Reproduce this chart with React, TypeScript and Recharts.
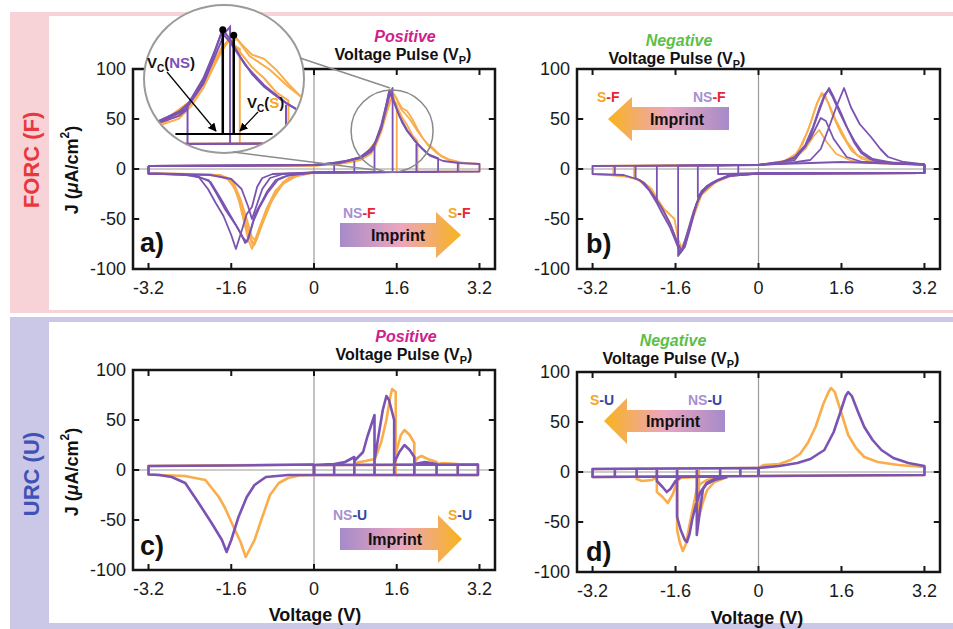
import React from "react"
import { LineChart, Line, XAxis, YAxis, ReferenceLine, ReferenceDot, ReferenceArea } from "recharts"

type P = [number, number | null]

const FONT = '"Liberation Sans", Arial, Helvetica, sans-serif'
const PURPLE = "#7b53b2"
const ORANGE = "#f9ad4b"
const RED = "#e8262d"
const BLUE = "#3346a8"
const LAV = "#a88fd2"
const GOLD = "#f5a623"

const xTicks = [-3.2, -1.6, 0, 1.6, 3.2]
const yTicks = [-100, -50, 0, 50, 100]

// a) FORC, positive pulse
const aOrange1: P[] = [[-3.2,3],[-2,3],[-1,3.2],[0,3.5],[0.3,4.5],[0.6,6],[0.9,9],[1.1,15],[1.2,24],[1.3,37],[1.4,55],[1.48,68],[1.55,75],[1.62,68],[1.7,61],[1.8,58],[1.9,50],[2.0,40],[2.1,31],[2.2,25],[2.3,21],[2.45,13],[2.6,9],[2.9,6],[3.2,5],[3.2,-2.5],[1.5,-3],[0,-3.5],[-0.16,-5],[-0.4,-7.5],[-0.54,-11],[-0.75,-22],[-0.93,-41],[-1.08,-62],[-1.2,-80],[-1.27,-71],[-1.34,-56],[-1.45,-32],[-1.59,-12],[-1.9,-6],[-2.5,-5],[-3.2,-4.5],[-3.2,3]]
const aOrange2: P[] = [[-3.2,3],[0,3.5],[0.5,5],[0.9,10],[1.15,20],[1.3,40],[1.42,60],[1.5,71],[1.6,65],[1.6,-3],[0,-3.5],[-0.3,-6],[-0.6,-13],[-0.85,-35],[-1.0,-55],[-1.15,-76],[-1.22,-70],[-1.32,-52],[-1.45,-28],[-1.6,-10],[-2.0,-5.5],[-3.2,-4.5],[-3.2,3]]
const aOrange3: P[] = [[-3.2,3],[0,3.5],[0.6,6.5],[0.95,12],[1.2,28],[1.35,50],[1.45,66],[1.52,72],[1.6,63],[1.7,52],[1.8,44],[1.9,34],[2.0,28],[2.0,-3],[0,-3.5],[-0.5,-9],[-0.75,-24],[-0.95,-45],[-1.1,-66],[-1.18,-77],[-1.26,-66],[-1.38,-45],[-1.5,-22],[-1.7,-8],[-2.2,-5],[-3.2,-4.5],[-3.2,3]]
const aOrange4: P[] = [[-3.2,3],[0,3.5],[0.7,7],[1.0,13],[1.25,32],[1.4,57],[1.5,70],[1.58,72],[1.68,60],[1.85,50],[2.0,38],[2.2,24],[2.4,15],[2.6,10],[2.8,7],[2.8,-2.7],[0,-3.5],[-0.3,-6],[-0.6,-15],[-0.8,-30],[-1.0,-55],[-1.12,-72],[-1.2,-68],[-1.3,-50],[-1.42,-30],[-1.55,-14],[-1.8,-6],[-3.2,-4.5],[-3.2,3]]
const aPurple1: P[] = [[-3.2,3],[-2,3],[-1,3.5],[0,4],[0.3,5.5],[0.6,8],[0.9,12],[1.1,20],[1.2,28],[1.3,42],[1.38,60],[1.46,79],[1.52,72],[1.6,60],[1.7,47],[1.8,38],[1.95,28],[2.1,20],[2.25,13],[2.5,8],[2.8,6],[3.2,5],[3.2,-2.5],[1.5,-3],[0,-3.5],[-0.43,-5.5],[-0.6,-8],[-0.74,-11],[-0.9,-22],[-1.0,-32],[-1.13,-44],[-1.22,-60],[-1.3,-73],[-1.38,-68],[-1.5,-57],[-1.71,-41],[-1.88,-25],[-2.04,-11],[-2.4,-6],[-3.2,-4.5],[-3.2,3]]
const aPurple2: P[] = [[-3.2,3],[0,4],[0.5,6.5],[0.9,12],[1.15,22],[1.3,44],[1.4,65],[1.45,77],[1.52,70],[1.65,53],[1.8,39],[2.0,25],[2.2,15],[2.4,11],[2.4,-2.8],[0,-3.5],[-0.5,-6.5],[-0.7,-11],[-0.9,-24],[-1.05,-38],[-1.17,-52],[-1.27,-70],[-1.33,-74],[-1.42,-64],[-1.6,-48],[-1.8,-30],[-2.0,-13],[-2.3,-6],[-3.2,-4.5],[-3.2,3]]
const aPurple3: P[] = [[-3.2,3],[0,4],[0.5,6],[0.9,11],[1.15,21],[1.3,40],[1.42,65],[1.48,77],[1.52,81],[1.52,-3],[0,-3.5],[-0.8,-5],[-1.0,-9],[-1.1,-18],[-1.2,-38],[-1.3,-45],[-1.4,-62],[-1.51,-80],[-1.6,-66],[-1.75,-47],[-1.9,-34],[-2.05,-20],[-2.23,-8],[-2.6,-5],[-3.2,-4.5],[-3.2,3]]
const aPurple4: P[] = [[-3.2,3],[0,4],[0.5,6],[0.9,11],[1.1,17],[1.17,22],[1.17,-3],[0,-3.5],[-0.6,-5],[-0.85,-9],[-1.0,-20],[-1.1,-35],[-1.2,-50],[-1.27,-38],[-1.4,-20],[-1.6,-10],[-2.0,-6],[-3.2,-4.5],[-3.2,3]]
const aDividers: P[] = [[0.39,4.5],[0.39,-3.3],[0.39,null],[0.78,8],[0.78,-3.2],[0.78,null],[1.98,25],[1.98,-3],[1.98,null],[2.78,6],[2.78,-2.7]]

// b) FORC, negative pulse
const bOrange1: P[] = [[3.2,4.5],[3.2,-4],[0,-4.5],[-0.4,-5],[-0.8,-12],[-1.1,-25],[-1.25,-45],[-1.35,-62],[-1.45,-80],[-1.5,-83],[-1.56,-75],[-1.65,-62],[-1.8,-46],[-1.95,-31],[-2.06,-22],[-2.3,-11],[-2.6,-7],[-3.2,-5],[-3.2,3],[0,4.2],[0.4,6.5],[0.68,12],[0.85,25],[1.0,45],[1.12,65],[1.22,76],[1.3,72],[1.42,55],[1.6,35],[1.8,18],[2.0,10],[2.3,6],[3.2,4.5]]
const bOrange2: P[] = [[3.2,4.5],[3.2,-4],[0,-4.5],[-0.5,-6],[-0.85,-14],[-1.1,-26],[-1.3,-55],[-1.42,-75],[-1.47,-80],[-1.55,-70],[-1.62,-50],[-1.72,-45],[-1.82,-40],[-1.95,-30],[-2.06,-20],[-2.25,-12],[-2.5,-8],[-2.8,-6],[-2.8,3.1],[0,4.2],[0.5,8],[0.75,16],[0.95,38],[1.08,58],[1.18,72],[1.25,74],[1.35,66],[1.5,48],[1.7,28],[1.9,14],[2.2,8],[3.2,4.5]]
const bOrange3: P[] = [[3.2,4.5],[3.2,-4],[0,-4.5],[-0.6,-7],[-0.9,-15],[-1.15,-28],[-1.3,-52],[-1.42,-72],[-1.5,-80],[-1.58,-72],[-1.7,-55],[-1.9,-35],[-2.1,-18],[-2.4,-9],[-2.4,3.2],[0,4],[0.6,7],[0.9,20],[1.05,32],[1.17,39],[1.3,28],[1.5,15],[1.8,8],[2.2,6],[3.2,4.5]]
const bPurple1: P[] = [[3.2,4.5],[3.2,-4],[1.5,-4.2],[0,-4.5],[-0.35,-4.7],[-0.6,-7],[-0.8,-11],[-1.0,-17],[-1.13,-25],[-1.25,-45],[-1.32,-58],[-1.42,-76],[-1.51,-84],[-1.6,-72],[-1.71,-58],[-1.85,-45],[-1.96,-34],[-2.1,-22],[-2.29,-11],[-2.6,-6],[-3.2,-5],[-3.2,3],[-2,3.3],[-1,3.7],[0,4.2],[0.4,6],[0.68,11],[0.9,22],[1.0,33],[1.15,55],[1.27,72],[1.36,81],[1.45,72],[1.6,55],[1.73,39],[1.85,26],[1.98,16],[2.15,10],[2.3,7],[2.7,5],[3.2,4.5]]
const bPurple2: P[] = [[3.2,4.5],[3.2,-4],[0,-4.5],[-0.5,-6],[-0.8,-12],[-1.05,-20],[-1.2,-35],[-1.32,-60],[-1.42,-78],[-1.48,-82],[-1.56,-74],[-1.7,-55],[-1.85,-40],[-2.0,-28],[-2.2,-14],[-2.37,-9],[-2.37,3.2],[0,4.2],[0.4,6],[0.7,12],[0.9,24],[1.05,42],[1.18,62],[1.28,75],[1.35,79],[1.42,73],[1.55,58],[1.7,42],[1.85,28],[2.0,17],[2.2,10],[2.6,6],[3.2,4.5]]
const bPurple3: P[] = [[3.2,4.5],[3.2,-4],[0,-4.5],[-0.6,-7],[-0.9,-14],[-1.1,-22],[-1.25,-42],[-1.38,-65],[-1.48,-82],[-1.55,-87],[-1.55,3.3],[0,4],[0.6,6],[1.0,9],[1.2,20],[1.34,39],[1.5,62],[1.65,81],[1.78,62],[1.95,45],[2.17,32],[2.35,20],[2.5,12],[2.8,7],[3.2,4.5]]
const bPurple4: P[] = [[3.2,4.5],[3.2,-4],[0,-4.5],[-0.6,-7],[-0.9,-14],[-1.17,-28],[-1.17,3.5],[0,4],[0.7,9],[1.0,30],[1.2,51],[1.3,48],[1.45,30],[1.7,12],[2.0,7],[3.2,4.5]]
const bPurple5: P[] = [[3.2,4.5],[3.2,-4],[0,-4.5],[-0.78,-5],[-0.78,3.6],[0,4.2],[1.0,6],[1.6,7],[2.2,6],[3.2,4.5]]
const bDividers: P[] = [[-0.39,-4.8],[-0.39,3.8],[-0.39,null],[-1.96,-34],[-1.96,3.3],[-1.96,null],[-2.77,-6.5],[-2.77,3.1]]

// c) URC, positive pulse
const cOrangeNeg: P[] = [[0,5.5],[0,-5],[-0.29,-5.5],[-0.5,-8],[-0.68,-13],[-0.85,-25],[-1.0,-47],[-1.15,-70],[-1.32,-87],[-1.42,-72],[-1.59,-53],[-1.72,-38],[-1.84,-27],[-2.1,-10],[-2.5,-6],[-3.2,-4.5],[-3.2,4],[0,5.5]]
const cPurpleNeg: P[] = [[0,5.5],[0,-5],[-0.5,-5],[-0.93,-7],[-1.15,-15],[-1.3,-27],[-1.46,-47],[-1.6,-70],[-1.69,-82],[-1.78,-70],[-1.98,-53],[-2.23,-33],[-2.49,-13],[-2.75,-7],[-3.0,-5],[-3.2,-4.5],[-3.2,4],[-1.6,4.5],[0,5.5]]
const cOrangeUrc: P[] = [[0,-5],[0,5],[3.17,5.5],[3.17,-5],[0,-5],[0,null],[0.78,7],[1.0,9],[1.17,11],[1.17,-5],[1.17,null],[1.17,10],[1.3,28],[1.4,50],[1.47,72],[1.51,81],[1.58,78],[1.58,-5],[1.58,null],[1.55,8],[1.6,20],[1.68,35],[1.75,40],[1.85,35],[1.94,27],[1.94,-5],[1.94,null],[1.94,7],[2.0,12],[2.08,14],[2.2,11],[2.37,8],[2.37,-5],[2.37,null],[2.37,6],[2.5,7],[2.78,6],[2.78,-5]]
const cPurpleUrc: P[] = [[0,-5],[0,5],[3.17,5.5],[3.17,-5],[0,-5],[0,null],[0.39,5],[0.39,-5],[0.39,null],[0,5],[0.39,6],[0.6,8],[0.78,13],[0.78,-5],[0.78,null],[0.78,9],[0.95,18],[1.03,33],[1.17,55],[1.17,-5],[1.17,null],[1.17,10],[1.25,35],[1.33,60],[1.4,74],[1.45,70],[1.55,50],[1.55,-5],[1.55,null],[1.55,7],[1.65,18],[1.75,25],[1.85,20],[1.94,13],[1.94,-5],[1.94,null],[1.94,6],[2.15,8],[2.37,6],[2.37,-5],[2.37,null],[2.78,5.5],[2.78,-5]]

// d) URC, negative pulse
const dOrangePos: P[] = [[0,-4],[0,4],[0.1,7],[0.4,8],[0.62,12],[0.8,18],[0.95,29],[1.1,45],[1.25,68],[1.35,80],[1.4,84],[1.47,80],[1.58,62],[1.73,37],[1.88,24],[2.04,15],[2.3,10],[2.7,7],[3.2,5],[3.2,-3],[1.6,-3.5],[0,-4]]
const dPurplePos: P[] = [[0,-4],[0,4],[0.4,6],[0.75,9],[1.0,13],[1.27,22],[1.45,40],[1.58,60],[1.68,76],[1.73,80],[1.8,76],[1.92,60],[2.04,45],[2.2,32],[2.37,22],[2.6,14],[2.89,9],[3.2,6],[3.2,-3],[1.6,-3.5],[0,-4]]
const dOrangeUrc: P[] = [[0,-4],[-3.2,-5],[-3.2,3],[0,4],[0,null],[-1.15,3.5],[-1.15,-45],[-1.07,-30],[-0.99,-18],[-0.85,-10],[-0.6,-5],[-0.6,null],[-1.57,3.5],[-1.57,-58],[-1.52,-70],[-1.46,-79],[-1.4,-72],[-1.32,-50],[-1.26,-35],[-1.19,-17],[-1.12,-12],[-1.0,-8],[-0.7,-5],[-0.7,null],[-1.96,3.5],[-1.96,-20],[-1.85,-25],[-1.75,-31],[-1.65,-22],[-1.57,-9],[-1.5,-6],[-1.2,-5],[-1.2,null],[-2.35,3.5],[-2.35,-7],[-2.25,-9],[-2.05,-8],[-1.96,-5]]
const dPurpleUrc: P[] = [[0,-4],[-3.2,-5],[-3.2,3],[0,4],[0,-4],[0,null],[-0.35,3.5],[-0.35,-4],[-0.35,null],[-0.74,3.5],[-0.74,-5],[-0.74,null],[-1.19,3.5],[-1.19,-63],[-1.17,-55],[-1.12,-35],[-1.07,-17],[-1.0,-12],[-0.85,-8],[-0.6,-5],[-0.6,null],[-1.57,3.5],[-1.57,-45],[-1.5,-58],[-1.42,-68],[-1.38,-70],[-1.33,-62],[-1.28,-48],[-1.22,-35],[-1.13,-21],[-1.0,-11],[-0.8,-6],[-0.6,-5],[-0.6,null],[-1.96,3.5],[-1.96,-9],[-1.85,-15],[-1.77,-20],[-1.7,-17],[-1.6,-9],[-1.5,-5],[-1.5,null],[-2.35,3.5],[-2.35,-5],[-2.35,null],[-2.77,3.5],[-2.77,-5]]

const pts = (a: P[]) => a.map(([v, j]) => ({ v, j }))

type Series = { data: P[]; color: string }

const aSeries: Series[] = [
  { data: aOrange1, color: ORANGE }, { data: aOrange2, color: ORANGE },
  { data: aOrange3, color: ORANGE }, { data: aOrange4, color: ORANGE },
  { data: aPurple1, color: PURPLE }, { data: aPurple2, color: PURPLE },
  { data: aPurple3, color: PURPLE }, { data: aPurple4, color: PURPLE },
  { data: aDividers, color: PURPLE },
]
const bSeries: Series[] = [
  { data: bOrange1, color: ORANGE }, { data: bOrange2, color: ORANGE }, { data: bOrange3, color: ORANGE },
  { data: bPurple1, color: PURPLE }, { data: bPurple2, color: PURPLE }, { data: bPurple3, color: PURPLE },
  { data: bPurple4, color: PURPLE }, { data: bPurple5, color: PURPLE }, { data: bDividers, color: PURPLE },
]
const cSeries: Series[] = [
  { data: cOrangeNeg, color: ORANGE }, { data: cOrangeUrc, color: ORANGE },
  { data: cPurpleNeg, color: PURPLE }, { data: cPurpleUrc, color: PURPLE },
]
const dSeries: Series[] = [
  { data: dOrangePos, color: ORANGE }, { data: dOrangeUrc, color: ORANGE },
  { data: dPurplePos, color: PURPLE }, { data: dPurpleUrc, color: PURPLE },
]

const tickStyle = { fill: "#1a1a1a", fontSize: 18, fontFamily: FONT }
const FRAME = "#151515"

function Panel(props: { x: number; y: number; w: number; h: number; series: Series[]; lw: number; children?: React.ReactNode }) {
  const { x, y, w, h, series, lw, children } = props
  return (
    <div style={{ position: "absolute", left: x - 70, top: y - 20 }}>
      <LineChart width={w + 80} height={h + 60} margin={{ top: 20, right: 10, left: 10, bottom: 0 }}>
        <XAxis type="number" dataKey="v" domain={[-3.5, 3.5]} ticks={xTicks} interval={0} allowDataOverflow
          height={40} tickSize={-6} tickMargin={18} axisLine={false} tickLine={false} tick={tickStyle} />
        <YAxis type="number" domain={[-100, 100]} ticks={yTicks} interval={0} allowDataOverflow width={60}
          tickSize={-6} tickMargin={13} axisLine={false} tickLine={false} tick={tickStyle} />
        <ReferenceLine x={0} stroke="#9a9a9a" strokeWidth={1.2} />
        <ReferenceLine y={0} stroke="#9a9a9a" strokeWidth={1.2} />
        {series.map((s, i) => (
          <Line key={i} data={pts(s.data)} dataKey="j" type="linear" stroke={s.color} strokeWidth={lw}
            strokeLinejoin="round" dot={false} activeDot={false} isAnimationActive={false} />
        ))}
        {children}
        <ReferenceArea x1={-3.5} x2={3.5} y1={-100} y2={100} fill="none" fillOpacity={0} stroke={FRAME} strokeWidth={2.5} />
        {xTicks.map((t) => (
          <ReferenceLine key={"xb" + t} segment={[{ x: t, y: -100 }, { x: t, y: -94 }]} stroke={FRAME} strokeWidth={2} />
        ))}
        {xTicks.map((t) => (
          <ReferenceLine key={"xt" + t} segment={[{ x: t, y: 100 }, { x: t, y: 94 }]} stroke={FRAME} strokeWidth={2} />
        ))}
        {yTicks.map((t) => (
          <ReferenceLine key={"yl" + t} segment={[{ x: -3.5, y: t }, { x: -3.38, y: t }]} stroke={FRAME} strokeWidth={2} />
        ))}
        {yTicks.map((t) => (
          <ReferenceLine key={"yr" + t} segment={[{ x: 3.5, y: t }, { x: 3.38, y: t }]} stroke={FRAME} strokeWidth={2} />
        ))}
      </LineChart>
    </div>
  )
}

function Inset() {
  return (
    <div style={{ position: "absolute", left: 143, top: 4, width: 162, height: 150, borderRadius: "50%",
      border: "2px solid #9b9b9b", boxSizing: "border-box", overflow: "hidden", background: "#fff" }}>
      <LineChart width={158} height={146} margin={{ top: 0, right: 0, left: 0, bottom: 0 }}>
        <XAxis type="number" dataKey="v" domain={[0.82, 2.12]} hide allowDataOverflow />
        <YAxis type="number" domain={[-9, 96]} hide allowDataOverflow />
        {aSeries.map((s, i) => (
          <Line key={i} data={pts(s.data)} dataKey="j" type="linear" stroke={s.color} strokeWidth={2}
            dot={false} activeDot={false} isAnimationActive={false} />
        ))}
        <ReferenceLine segment={[{ x: 1.07, y: 4 }, { x: 1.87, y: 4 }]} stroke="#000" strokeWidth={2} />
        <ReferenceLine segment={[{ x: 1.46, y: 4 }, { x: 1.46, y: 79 }]} stroke="#000" strokeWidth={2.5} />
        <ReferenceLine segment={[{ x: 1.55, y: 4 }, { x: 1.55, y: 75 }]} stroke="#000" strokeWidth={2.5} />
        <ReferenceDot x={1.46} y={79} r={3.5} fill="#000" stroke="none" />
        <ReferenceDot x={1.55} y={75} r={3.5} fill="#000" stroke="none" />
      </LineChart>
    </div>
  )
}

function Sub({ t }: { t: string }) {
  return <><tspan dy={4} fontSize="0.68em">{t}</tspan><tspan dy={-4}>{")"}</tspan></>
}

function Title({ cx, y, word, color }: { cx: number; y: number; word: string; color: string }) {
  return (
    <g fontFamily={FONT} fontWeight="bold" textAnchor="middle">
      <text x={cx + 2} y={y} fontSize={16} fontStyle="italic" fill={color}>{word}</text>
      <text x={cx} y={y + 18} fontSize={16} fill="#111">Voltage Pulse (V<Sub t="P" /></text>
    </g>
  )
}

function YLabel({ cx, cy }: { cx: number; cy: number }) {
  return (
    <text transform={`translate(${cx},${cy}) rotate(-90)`} textAnchor="middle" dominantBaseline="central"
      fontSize={18} fontWeight="bold" fontFamily={FONT} fill="#111">
      J (<tspan fontStyle="italic">μ</tspan>A/cm<tspan dy={-7} fontSize={12}>2</tspan><tspan dy={7}>)</tspan>
    </text>
  )
}

function Tag({ x, y, a, aColor, b, bColor }: { x: number; y: number; a: string; aColor: string; b: string; bColor: string }) {
  return (
    <text x={x} y={y} fontSize={14} fontWeight="bold" fontFamily={FONT}>
      <tspan fill={aColor}>{a}</tspan><tspan fill={bColor}>{b}</tspan>
    </text>
  )
}

export default function App() {
  return (
    <div style={{ position: "absolute", left: 0, top: 0, width: 953, height: 629, background: "#fff", overflow: "hidden", fontFamily: FONT }}>
      <div style={{ position: "absolute", left: 10, top: 12, width: 943, height: 301, background: "#f7d3d7" }} />
      <div style={{ position: "absolute", left: 49, top: 16, width: 904, height: 294, background: "#fff" }} />
      <div style={{ position: "absolute", left: 10, top: 317, width: 943, height: 312, background: "#cac8e6" }} />
      <div style={{ position: "absolute", left: 49, top: 322, width: 904, height: 301, background: "#fff" }} />

      <Panel x={133} y={69} w={362} h={200} series={aSeries} lw={1.8}>
        <ReferenceDot x={1.51} y={38} r={41} fill="none" stroke="#8a8a8a" strokeWidth={1.5} />
      </Panel>
      <Panel x={577} y={69} w={363} h={200} series={bSeries} lw={1.8} />
      <Panel x={133} y={370} w={362} h={200} series={cSeries} lw={2.6} />
      <Panel x={577} y={372} w={363} h={200} series={dSeries} lw={2.6} />

      <Inset />

      <svg width={953} height={629} style={{ position: "absolute", left: 0, top: 0, pointerEvents: "none" }}>
        <defs>
          <linearGradient id="imprR" x1="0" x2="1" y1="0" y2="0">
            <stop offset="0" stopColor="#a58bc9" />
            <stop offset="0.5" stopColor="#eca5bf" />
            <stop offset="1" stopColor="#f8b31c" />
          </linearGradient>
          <linearGradient id="imprL" x1="0" x2="1" y1="0" y2="0">
            <stop offset="0" stopColor="#f8b31c" />
            <stop offset="0.5" stopColor="#eca5bf" />
            <stop offset="1" stopColor="#a58bc9" />
          </linearGradient>
          <marker id="ah" viewBox="0 0 10 10" refX="9" refY="5" markerWidth="7" markerHeight="7" orient="auto-start-reverse">
            <path d="M0,0 L10,5 L0,10 z" fill="#000" />
          </marker>
        </defs>

        <text transform="translate(39,160) rotate(-90)" textAnchor="middle" fontSize={22} fontWeight="bold" fontFamily={FONT} fill="#e8383d">FORC (F)</text>
        <text transform="translate(39,474) rotate(-90)" textAnchor="middle" fontSize={22} fontWeight="bold" fontFamily={FONT} fill="#4052b5">URC (U)</text>

        <Title cx={403} y={42} word="Positive" color="#d0208c" />
        <Title cx={677} y={46} word="Negative" color="#5cbf45" />
        <Title cx={404} y={342} word="Positive" color="#d0208c" />
        <Title cx={671} y={346} word="Negative" color="#5cbf45" />

        <YLabel cx={72} cy={170} />
        <YLabel cx={72} cy={472} />

        <g fontFamily={FONT} fontWeight="bold" fill="#111" fontSize={18} textAnchor="middle">
          <text x={315} y={621}>Voltage (V)</text>
          <text x={757} y={624}>Voltage (V)</text>
        </g>

        <g fontFamily={FONT} fontWeight="bold" fill="#111" fontSize={27}>
          <text x={140} y={252}>a)</text>
          <text x={586} y={253}>b)</text>
          <text x={140} y={555}>c)</text>
          <text x={586} y={561}>d)</text>
        </g>

        <polygon points="340,223 436,223 436,212 461,235 436,258 436,247 340,247" fill="url(#imprR)" />
        <polygon points="729,107 632,107 632,97 608,119 632,141 632,130 729,130" fill="url(#imprL)" />
        <polygon points="340,528 438,528 438,515 462,539 438,563 438,550 340,550" fill="url(#imprR)" />
        <polygon points="725,410 627,410 627,398 604,421 627,444 627,432 725,432" fill="url(#imprL)" />
        <g fontFamily={FONT} fontWeight="bold" fill="#111" fontSize={16} textAnchor="middle">
          <text x={398} y={241}>Imprint</text>
          <text x={677} y={125}>Imprint</text>
          <text x={395} y={545}>Imprint</text>
          <text x={673} y={427}>Imprint</text>
        </g>
        <Tag x={343} y={218} a="NS" aColor={LAV} b="-F" bColor={RED} />
        <Tag x={448} y={218} a="S" aColor={GOLD} b="-F" bColor={RED} />
        <Tag x={597} y={102} a="S" aColor={GOLD} b="-F" bColor={RED} />
        <Tag x={693} y={102} a="NS" aColor={LAV} b="-F" bColor={RED} />
        <Tag x={333} y={520} a="NS" aColor={LAV} b="-U" bColor={BLUE} />
        <Tag x={448} y={520} a="S" aColor={GOLD} b="-U" bColor={BLUE} />
        <Tag x={590} y={405} a="S" aColor={GOLD} b="-U" bColor={BLUE} />
        <Tag x={688} y={405} a="NS" aColor={LAV} b="-U" bColor={BLUE} />

        <line x1={300} y1={58} x2={390} y2={88} stroke="#8c8c8c" strokeWidth={1.5} />
        <line x1={233} y1={152} x2={375} y2={170} stroke="#8c8c8c" strokeWidth={1.5} />

        <line x1={167} y1={72} x2={216} y2={131} stroke="#000" strokeWidth={1.2} markerEnd="url(#ah)" />
        <line x1={258} y1={112} x2={240} y2={131} stroke="#000" strokeWidth={1.2} markerEnd="url(#ah)" />
        <text x={147} y={68} fontSize={15} fontWeight="bold" fontFamily={FONT} fill="#111">
          V<tspan dy={4} fontSize={10}>C</tspan><tspan dy={-4}>(</tspan><tspan fill={PURPLE}>NS</tspan>)
        </text>
        <text x={247} y={108} fontSize={15} fontWeight="bold" fontFamily={FONT} fill="#111">
          V<tspan dy={4} fontSize={10}>C</tspan><tspan dy={-4}>(</tspan><tspan fill={GOLD}>S</tspan>)
        </text>
      </svg>
    </div>
  )
}
